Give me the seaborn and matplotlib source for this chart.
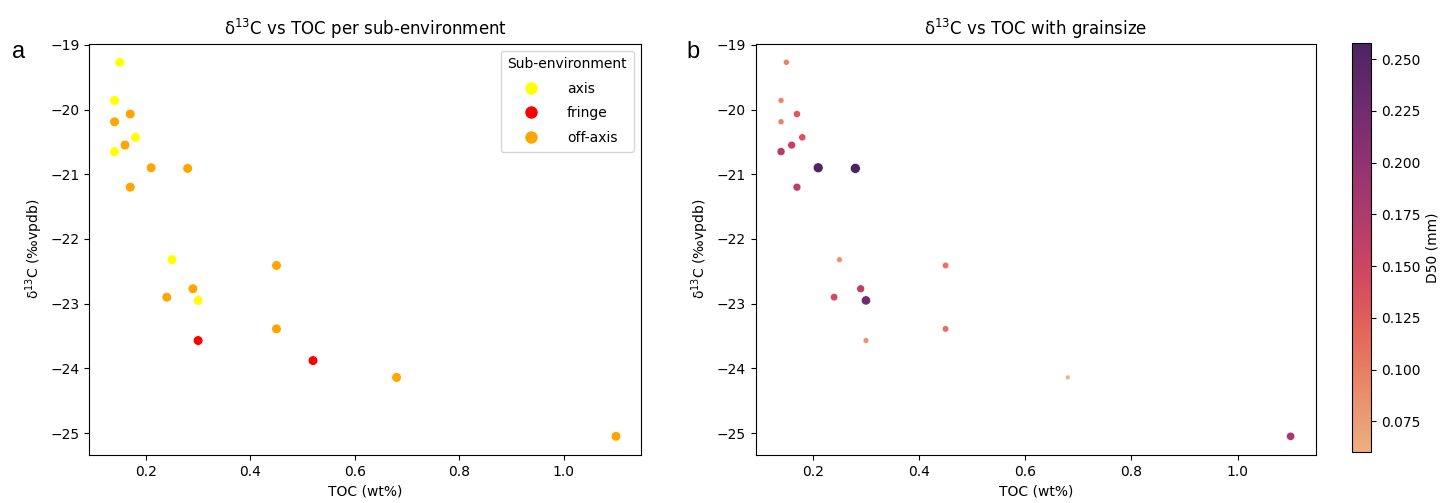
import numpy as np
import pandas as pd
import matplotlib
matplotlib.use("Agg")
import matplotlib.pyplot as plt
import seaborn as sns

# ---- data ----
toc = [0.15, 0.14, 0.18, 0.14, 0.25, 0.30, 0.30, 0.52,
       0.17, 0.14, 0.16, 0.21, 0.28, 0.17, 0.45, 0.29, 0.24, 0.45, 0.68, 1.10]
d13c = [-19.27, -19.86, -20.43, -20.65, -22.32, -22.95, -23.57, -23.88,
        -20.07, -20.19, -20.55, -20.90, -20.91, -21.20, -22.41, -22.77, -22.90, -23.39, -24.14, -25.05]
env = ["axis"] * 6 + ["fringe"] * 2 + ["off-axis"] * 12
d50 = [0.095, 0.092, 0.135, 0.170, 0.085, 0.225, 0.085, np.nan,
       0.130, 0.095, 0.160, 0.255, 0.258, 0.165, 0.110, 0.165, 0.145, 0.110, 0.060, 0.180]

env_order = ["axis", "fringe", "off-axis"]
env_colors = ["yellow", "red", "orange"]

df = pd.DataFrame({"TOC": toc, "d13C": d13c, "env": env, "D50": d50})

fig = plt.figure(figsize=(14.48, 5.03), dpi=100)
ax1 = fig.add_axes([0.0618, 0.0954, 0.3809, 0.818])
ax2 = fig.add_axes([0.5218, 0.0954, 0.3871, 0.818])
cax = fig.add_axes([0.9335, 0.1008, 0.0133, 0.8143])

# ---- panel a ----
sns.scatterplot(data=df, x="TOC", y="d13C", hue="env", hue_order=env_order,
                palette=dict(zip(env_order, env_colors)), s=50, ax=ax1)
ax1.set_title("δ$^{13}$C vs TOC per sub-environment", fontsize=12)
ax1.set_xlabel("TOC (wt%)")
ax1.set_ylabel("δ$^{13}$C (‰vpdb)")
ax1.legend(title="Sub-environment", loc="upper right", markerscale=1.35,
           handletextpad=1.6, labelspacing=0.75, borderpad=0.5)

# ---- panel b ----
dfb = df.dropna(subset=["D50"])
cmap = sns.color_palette("flare", as_cmap=True)
sns.scatterplot(data=dfb, x="TOC", y="d13C", hue="D50", size="D50",
                palette=cmap, sizes=(12, 50), legend=False, ax=ax2)
ax2.set_xlim(ax1.get_xlim())
ax2.set_ylim(ax1.get_ylim())
ax2.set_title("δ$^{13}$C vs TOC with grainsize", fontsize=12)
ax2.set_xlabel("TOC (wt%)")
ax2.set_ylabel("δ$^{13}$C (‰vpdb)")

norm = plt.Normalize(dfb["D50"].min(), dfb["D50"].max())
sm = plt.cm.ScalarMappable(cmap=cmap, norm=norm)
sm.set_array([])
cb = fig.colorbar(sm, cax=cax)
cb.set_label("D50 (mm)")
cb.set_ticks([0.075, 0.100, 0.125, 0.150, 0.175, 0.200, 0.225, 0.250])

for a in (ax1, ax2):
    a.set_yticks([-19, -20, -21, -22, -23, -24, -25])

fig.text(0.008, 0.885, "a", fontsize=17, family="Liberation Sans")
fig.text(0.474, 0.885, "b", fontsize=17, family="Liberation Sans")

fig.savefig("out.png", dpi=100)
